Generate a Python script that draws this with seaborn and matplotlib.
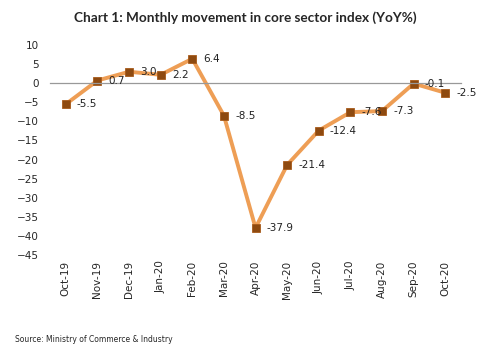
import matplotlib
matplotlib.use("Agg")
import matplotlib.pyplot as plt
import seaborn as sns
import pandas as pd

months = ["Oct-19", "Nov-19", "Dec-19", "Jan-20", "Feb-20", "Mar-20", "Apr-20",
          "May-20", "Jun-20", "Jul-20", "Aug-20", "Sep-20", "Oct-20"]
yoy = [-5.5, 0.7, 3.0, 2.2, 6.4, -8.5, -37.9, -21.4, -12.4, -7.6, -7.3, -0.1, -2.5]
labels = ["-5.5", "0.7", "3.0", "2.2", "6.4", "-8.5", "-37.9", "-21.4", "-12.4",
          "-7.6", "-7.3", "-0.1", "-2.5"]

df = pd.DataFrame({"pos": range(len(months)), "yoy": yoy})

sns.set_style("white")
plt.rcParams["font.family"] = ["DejaVu Sans"]

fig = plt.figure(figsize=(4.9, 3.63), dpi=100)
ax = fig.add_axes([0.102, 0.2975, 0.839, 0.5785])

sns.lineplot(data=df, x="pos", y="yoy", ax=ax, color="#EE9E55", linewidth=2.8,
             marker="s", markersize=5.5, markerfacecolor="#8E4A10",
             markeredgecolor="#A85A1A", markeredgewidth=0.6)

for i, (v, t) in enumerate(zip(yoy, labels)):
    ax.annotate(t, (i, v), xytext=(8, 0), textcoords="offset points",
                ha="left", va="center", fontsize=7.5, color="#222222")

ax.set_xlim(-0.5, len(months) - 0.5)
ax.set_ylim(-45, 10)
ax.set_yticks(range(-45, 11, 5))
ax.tick_params(axis="y", length=0, labelsize=7.5, pad=8)
ax.set_xlabel("")
ax.set_ylabel("")

# zero line with boundary tick marks
for s in ["top", "right", "left"]:
    ax.spines[s].set_visible(False)
ax.spines["bottom"].set_position(("data", 0))
ax.spines["bottom"].set_color("#999999")
ax.spines["bottom"].set_linewidth(0.9)
ax.set_xticks([i - 0.5 for i in range(len(months) + 1)])
ax.set_xticklabels([])
ax.tick_params(axis="x", direction="out", length=4, color="#999999", width=0.9)

sec = ax.secondary_xaxis("bottom")
sec.set_xticks(range(len(months)))
sec.set_xticklabels(months, rotation=90, fontsize=7.5)
sec.tick_params(length=0, pad=4)
sec.spines["bottom"].set_visible(False)

fig.text(0.5, 0.95, "Chart 1: Monthly movement in core sector index (YoY%)",
         ha="center", va="center", fontsize=9.8, fontweight="bold", family="Lato")
fig.text(0.03, 0.066, "Source: Ministry of Commerce & Industry",
         ha="left", va="center", fontsize=5.5)

fig.savefig("out.png", dpi=100)
